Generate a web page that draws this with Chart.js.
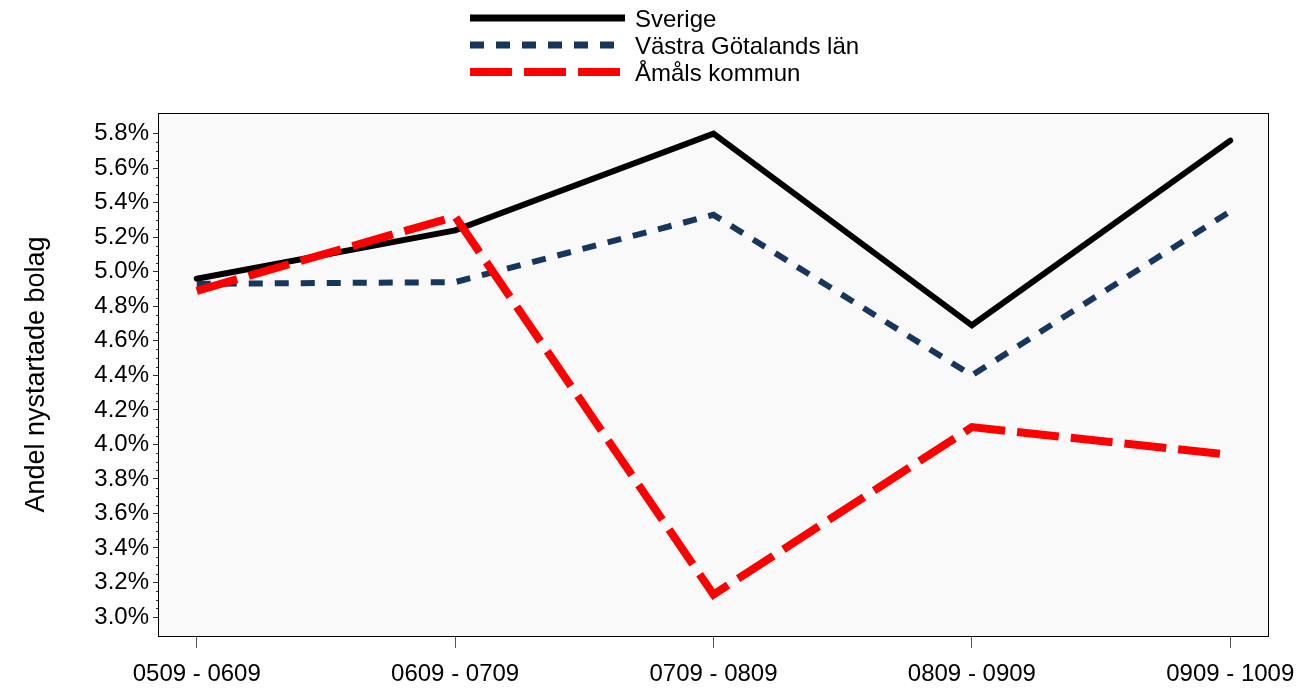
<!DOCTYPE html>
<html>
<head>
<meta charset="utf-8">
<script src="https://cdn.jsdelivr.net/npm/chart.js@4/dist/chart.umd.min.js"></script>
<style>
  body { margin: 0; background: #fff; }
  #wrap { width: 1302px; height: 689px; position: relative; }
</style>
</head>
<body>
<div id="wrap"><canvas id="chart"></canvas></div>
<script>
// Period labels on the x axis
var periods = ['0509 - 0609', '0609 - 0709', '0709 - 0809', '0809 - 0909', '0909 - 1009'];

// Share of newly started companies, in percent
var sverige = [4.96, 5.24, 5.80, 4.69, 5.76];
var vastraGotaland = [4.93, 4.94, 5.33, 4.40, 5.35];
var amal = [4.89, 5.32, 3.13, 4.10, 3.94];

var seriesNames = ['Sverige', 'Västra Götalands län', 'Åmåls kommun'];

var FONT = 'Liberation Sans, Arial, sans-serif';

function toPoints(values) {
    return values.map(function(v, i) { return {x: i, y: v}; });
}

// plot background + frame
var plotFrame = {
    id: 'plotFrame',
    beforeDatasetsDraw: function(chart) {
        var a = chart.chartArea, ctx = chart.ctx;
        ctx.save();
        ctx.fillStyle = '#f9f9f9';
        ctx.fillRect(a.left, a.top, a.right - a.left, a.bottom - a.top);
        ctx.restore();
    },
    afterDraw: function(chart) {
        var a = chart.chartArea, ctx = chart.ctx;
        ctx.save();
        ctx.strokeStyle = '#000';
        ctx.lineWidth = 1;
        ctx.strokeRect(a.left + 0.5, a.top + 0.5, a.right - a.left - 1, a.bottom - a.top);
        // minor ticks on y axis, every 0.05
        var y = chart.scales.y;
        ctx.strokeStyle = '#333';
        for (var k = 0; k <= 56; k++) {
            if (k % 4 === 0) continue;
            var py = Math.round(y.getPixelForValue(3.0 + k * 0.05)) + 0.5;
            ctx.beginPath();
            ctx.moveTo(a.left - 2, py);
            ctx.lineTo(a.left, py);
            ctx.stroke();
        }
        ctx.restore();
    }
};

// legend drawn as a vertical list above the plot
var lineLegend = {
    id: 'lineLegend',
    afterDraw: function(chart) {
        var ctx = chart.ctx;
        ctx.save();
        chart.data.datasets.forEach(function(ds, i) {
            var cy = 18 + i * 27;
            ctx.strokeStyle = ds.borderColor;
            ctx.lineWidth = ds.legendWidth;
            ctx.setLineDash(ds.borderDash || []);
            ctx.lineCap = 'butt';
            ctx.beginPath();
            ctx.moveTo(470, cy);
            ctx.lineTo(625, cy);
            ctx.stroke();
            ctx.setLineDash([]);
            ctx.fillStyle = '#000';
            ctx.font = '24px ' + FONT;
            ctx.textBaseline = 'middle';
            ctx.textAlign = 'left';
            ctx.fillText(ds.label, 635, cy + 2);
        });
        ctx.restore();
    }
};

var ctx = document.getElementById('chart').getContext('2d');
var chart = new Chart(ctx, {
    type: 'line',
    data: {
        datasets: [{
            label: seriesNames[0],
            data: toPoints(sverige),
            borderColor: '#000000',
            borderWidth: 6,
            legendWidth: 7,
            borderJoinStyle: 'miter',
            borderCapStyle: 'round',
            order: 3
        }, {
            label: seriesNames[1],
            data: toPoints(vastraGotaland),
            borderColor: '#17365d',
            borderWidth: 6,
            legendWidth: 7,
            borderDash: [14, 12],
            order: 2
        }, {
            label: seriesNames[2],
            data: toPoints(amal),
            borderColor: '#ff0000',
            borderWidth: 8,
            legendWidth: 8,
            borderDash: [42, 12],
            order: 1
        }]
    },
    options: {
        responsive: true,
        maintainAspectRatio: false,
        animation: false,
        layout: { padding: { top: 113, right: 33, left: 0, bottom: 0 } },
        elements: {
            point: { radius: 0, hoverRadius: 0 },
            line: { tension: 0, fill: false }
        },
        plugins: {
            legend: { display: false },
            tooltip: { enabled: false }
        },
        scales: {
            x: {
                type: 'linear',
                min: -0.15,
                max: 4.15,
                afterFit: function(s) { s.height = 53; s.paddingLeft = 0; s.paddingRight = 0; },
                border: { display: false },
                grid: { drawOnChartArea: false, tickLength: 12, tickColor: '#555', drawTicks: true },
                ticks: {
                    stepSize: 1,
                    includeBounds: false,
                    autoSkip: false,
                    maxRotation: 0,
                    padding: 12,
                    color: '#000',
                    font: { family: FONT, size: 24 },
                    callback: function(v) { return periods[v] !== undefined && Number.isInteger(v) ? periods[v] : ''; }
                }
            },
            y: {
                min: 2.89,
                max: 5.92,
                afterFit: function(s) { s.width = 158; s.paddingTop = 0; s.paddingBottom = 0; },
                border: { display: false },
                grid: { drawOnChartArea: false, tickLength: 5, tickColor: '#333' },
                ticks: {
                    stepSize: 0.2,
                    includeBounds: false,
                    padding: 4,
                    color: '#000',
                    font: { family: FONT, size: 24 },
                    callback: function(v) { return v.toFixed(1) + '%'; }
                },
                title: {
                    display: true,
                    text: 'Andel nystartade bolag',
                    color: '#000',
                    font: { family: FONT, size: 27 },
                    padding: { top: 20, bottom: 0 }
                }
            }
        }
    },
    plugins: [plotFrame, lineLegend]
});
</script>
</body>
</html>
